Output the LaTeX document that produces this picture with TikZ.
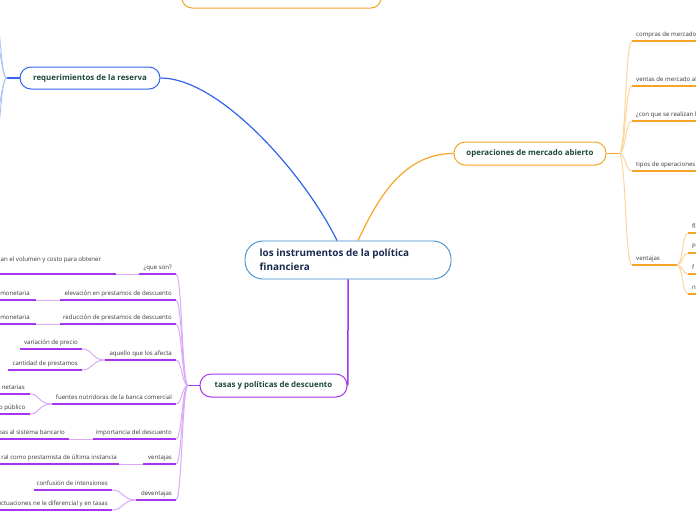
\documentclass[tikz,border=0pt]{standalone}
\usepackage{fontspec}
\setmainfont{Open Sans}
\usetikzlibrary{calc}
\definecolor{purp}{HTML}{A535EE}
\definecolor{lpurp}{HTML}{DAAAF7}
\definecolor{oran}{HTML}{F7A325}
\definecolor{loran}{HTML}{FCD59C}
\definecolor{blu}{HTML}{3164EE}
\definecolor{lblu}{HTML}{AFC2F8}
\definecolor{cblu}{HTML}{3C8CD0}
\definecolor{dgreen}{HTML}{1B4A3A}
\definecolor{navy}{HTML}{1B2A4E}
\definecolor{txt}{HTML}{363636}
\tikzset{
  mainbox/.style={draw, fill=white, rounded corners=11pt, line width=1pt, inner sep=0pt,
    text=dgreen, font=\fontsize{7.9}{9}\selectfont\bfseries},
  lab/.style={text=txt, font=\fontsize{6.1}{7}\selectfont, inner sep=0pt},
  labR/.style={lab, anchor=base east},
  labL/.style={lab, anchor=base west},
  pline/.style={purp, line width=1.5pt},
  plight/.style={lpurp, line width=1pt},
  oline/.style={oran, line width=1.4pt},
  olight/.style={loran, line width=1pt},
}
\begin{document}
\begin{tikzpicture}[x=1pt,y=-1pt]
\useasboundingbox (0,0) rectangle (696,520);
\clip (0,0) rectangle (696,520);

% top orange box (mostly cut off)
\draw[oran, line width=1pt, rounded corners=10pt] (182,-40) rectangle (381,8);

% main nodes
\node[draw=cblu, fill=white, rounded corners=18pt, line width=0.9pt, minimum width=206pt, minimum height=38pt] (c) at (348,260) {};
\node[anchor=west, align=left, text=navy, inner sep=0pt, font=\fontsize{9.9}{14}\selectfont\bfseries] (ct) at (259.5,260) {los instrumentos de la política\\financiera};

\node[mainbox, draw=blu, minimum width=140pt, minimum height=22pt] (req) at (90,78) {requerimientos de la reserva};
\node[mainbox, draw=oran, minimum width=152pt, minimum height=23pt] (op) at (530,153.5) {operaciones de mercado abierto};
\node[mainbox, draw=purp, minimum width=147pt, minimum height=23pt] (tas) at (273.5,385.5) {tasas y políticas de descuento};

% main connectors
\draw[blu, line width=1.2pt] (req.east) .. controls (220,78) and (305,175) .. ($(c.north)+(-11,0)$);
\draw[oran, line width=1.2pt] ($(c.north)+(10,0)$) .. controls (375,205) and (400,153.5) .. (op.west);
\draw[purp, line width=1.5pt] (c.south) .. controls (348,380) and (348,385.5) .. (tas.east);

% requerimientos: left branches
\draw[blu, line width=1.2pt] (req.west) -- (7,78) coordinate (rb);
\foreach \yy in {18,42} \draw[lblu, line width=0.9pt] (rb) .. controls (3,78) and (2,62) .. (-2,\yy);
\foreach \yy in {112,138} \draw[lblu, line width=0.9pt] (rb) .. controls (3,78) and (2,94) .. (-2,\yy);

% operaciones: right branches
\draw[oline] (op.east) -- (619,153.5) coordinate (ob);
\foreach \yy/\tt in {41/compras de mercado, 86/ventas de mercado al, 121/¿con que se realizan l, 171/tipos de operaciones, 265/ventajas}{
  \draw[olight] (ob) .. controls (626,153.5) and (625,\yy) .. (632,\yy);
  \node[labL] at (636,\yy-5) {\tt};
}
\foreach \yy in {41,86,121,171} \draw[oline] (632,\yy) -- (700,\yy);
\draw[oline] (632,265) -- (677,265) coordinate (vb);
\foreach \yy/\tt in {233/fl, 253/P, 274/f, 294/n}{
  \draw[olight] (vb) .. controls (683,265) and (682,\yy) .. (688,\yy);
  \draw[oline] (688,\yy) -- (700,\yy);
  \node[labL] at (692,\yy-5) {\tt};
}

% tasas: left branches
\draw[pline] (tas.west) -- (188,385.5) coordinate (tb);
\foreach \yy in {274,300,324,360,404,439,464,500}
  \draw[plight] (tb) .. controls (182,385.5) and (182,\yy) .. (176,\yy);

% 1 que son
\draw[pline] (139,274) -- (176,274);
\draw[plight] (116,274) -- (139,274);
\draw[pline] (-5,274) -- (116,274);
\node[labR] at (172,269) {¿que son?};
\node[labL] at (0.5,261) {an el volumen y costo para obtener};

% 2 elevacion
\draw[pline] (60,300) -- (176,300);
\draw[plight] (36,300) -- (60,300);
\draw[pline] (-5,300) -- (36,300);
\node[labR] at (172,295) {elevación en prestamos de descuento};
\node[labR] at (30,295) {monetaria};

% 3 reduccion
\draw[pline] (60,324) -- (176,324);
\draw[plight] (36,324) -- (60,324);
\draw[pline] (-5,324) -- (36,324);
\node[labR] at (172,319) {reducción de prestamos de descuento};
\node[labR] at (30,319) {monetaria};

% 4 aquello
\draw[pline] (105,360) -- (176,360);
\draw[plight] (105,360) .. controls (92,360) and (93,349) .. (82,349);
\draw[plight] (105,360) .. controls (92,360) and (93,370) .. (82,370);
\draw[pline] (20,349) -- (82,349);
\draw[pline] (8,370) -- (82,370);
\node[labR] at (172,355) {aquello que los afecta};
\node[labR] at (78,344) {variación de precio};
\node[labR] at (78,365) {cantidad de prestamos};

% 5 fuentes
\draw[pline] (52,404) -- (176,404);
\draw[plight] (52,404) .. controls (38,404) and (40,394) .. (30,394);
\draw[plight] (52,404) .. controls (38,404) and (40,414) .. (30,414);
\draw[pline] (-5,394) -- (30,394);
\draw[pline] (-5,414) -- (30,414);
\node[labR] at (172,399) {fuentes nutridoras de la banca comercial};
\node[labR] at (25,389) {netarias};
\node[labR] at (25.5,409) {o público};

% 6 importancia
\draw[pline] (93,439) -- (176,439);
\draw[plight] (69,439) -- (93,439);
\draw[pline] (-5,439) -- (69,439);
\node[labR] at (172,434) {importancia del descuento};
\node[labR] at (65,434) {pas al sistema bancario};

% 7 ventajas
\draw[pline] (143,464) -- (176,464);
\draw[plight] (119,464) -- (143,464);
\draw[pline] (-5,464) -- (119,464);
\node[labR] at (172,459) {ventajas};
\node[labR] at (117,459) {ral como prestamista de última instancia};

% 8 deventajas
\draw[pline] (136,500) -- (176,500);
\draw[plight] (136,500) .. controls (122,500) and (124,490) .. (112,490);
\draw[plight] (136,500) .. controls (122,500) and (124,510) .. (112,510);
\draw[pline] (34,490) -- (112,490);
\draw[pline] (-5,510) -- (112,510);
\node[labR] at (172,495) {deventajas};
\node[labR] at (108,485) {confusión de intensiones};
\node[labR] at (108,505) {uctuaciones ne le diferencial y en tasas};

\end{tikzpicture}
\end{document}
